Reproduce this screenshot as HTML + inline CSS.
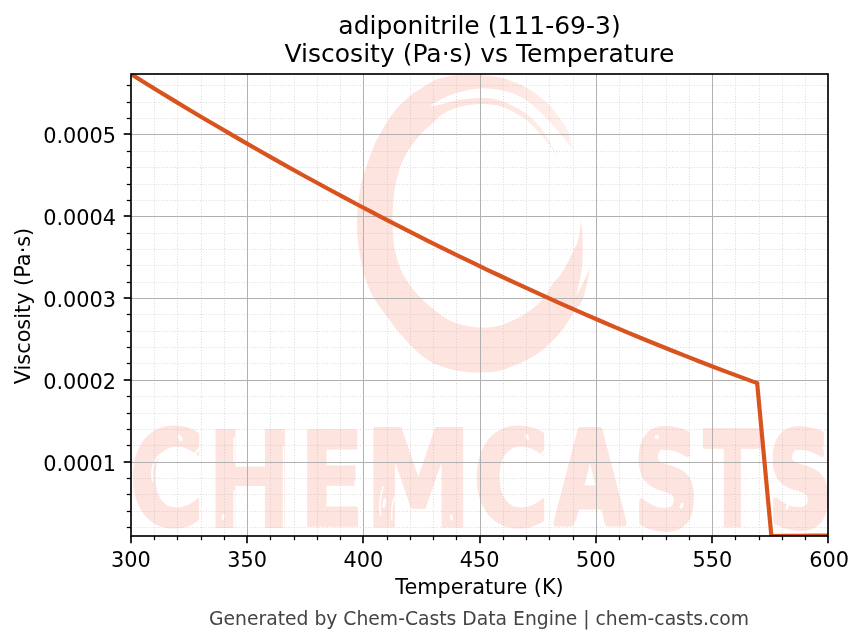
<!DOCTYPE html>
<html lang="en"><head><meta charset="utf-8"><title>adiponitrile (111-69-3) Viscosity (Pa·s) vs Temperature</title>
<style>html,body{margin:0;padding:0;background:#fff}body{width:863px;height:644px;overflow:hidden}</style>
</head><body>
<svg width="863" height="644" viewBox="0 0 863 644" style="display:block">
<defs><filter id="soft" x="-5%" y="-5%" width="110%" height="110%"><feGaussianBlur stdDeviation="0.7"/></filter><clipPath id="ax"><rect x="131" y="74" width="697" height="462"/></clipPath></defs>
<rect width="863" height="644" fill="#fff"/>
<g clip-path="url(#ax)" id="wm">
<defs><linearGradient id="fade" gradientUnits="userSpaceOnUse" x1="500" y1="0" x2="578" y2="0"><stop offset="0" stop-color="#fee4df"/><stop offset="1" stop-color="#fff1ee"/></linearGradient><clipPath id="ctop"><rect x="340" y="60" width="270" height="130"/></clipPath><clipPath id="cbot"><rect x="340" y="190" width="270" height="200"/></clipPath></defs>
<g filter="url(#soft)"><path d="M573.5,150.3C572.5,147.0 571.3,137.7 567.6,130.5C563.9,123.3 555.9,112.9 551.3,107.3C546.7,101.7 544.3,100.3 540.0,97.0C535.7,93.7 531.8,90.4 525.7,87.3C519.6,84.2 511.0,80.3 503.4,78.3C495.8,76.2 487.5,75.5 479.8,75.0C472.1,74.5 462.3,75.0 457.0,75.3C451.7,75.6 451.7,75.7 447.8,76.6C443.9,77.5 438.5,78.5 433.9,80.6C429.3,82.7 423.9,86.8 420.0,89.3C416.1,91.8 414.8,91.7 410.4,95.6C405.9,99.5 398.4,106.4 393.3,112.8C388.2,119.2 383.5,127.8 380.0,134.0C376.5,140.2 375.5,141.5 372.4,150.0C369.2,158.5 363.5,172.8 361.0,185.0C358.4,197.2 357.0,210.5 357.0,223.0C357.0,235.5 358.5,248.5 360.7,260.0C363.0,271.5 365.9,282.1 370.6,292.0C375.3,301.9 383.5,311.8 389.0,319.4C394.5,327.0 398.7,332.1 403.9,337.9C409.1,343.7 414.7,349.8 420.1,354.2C425.5,358.6 429.7,361.8 436.3,364.6C442.9,367.5 452.1,370.0 459.5,371.3C466.9,372.6 473.4,372.7 480.4,372.5C487.3,372.3 493.9,372.1 501.2,370.2C508.5,368.3 517.4,364.6 524.4,361.1C531.4,357.7 536.8,354.5 543.0,349.5C549.2,344.5 556.1,337.6 561.5,331.0C566.9,324.4 572.0,315.1 575.4,310.1C578.8,305.1 580.2,304.9 582.0,301.0C583.8,297.1 584.9,292.8 586.3,287.0C587.7,281.2 589.7,269.9 590.4,266.5C589.7,268.2 587.7,273.3 586.1,276.7C584.5,280.1 582.6,283.9 581.0,287.0C579.4,290.1 577.4,294.1 576.7,295.5C577.0,293.9 577.8,289.1 578.4,286.0C579.0,282.9 579.9,280.5 580.5,277.0C581.1,273.5 581.8,269.5 582.2,265.0C582.6,260.5 582.8,255.0 582.8,250.0C582.8,245.0 582.8,240.1 582.5,235.0C582.2,229.9 581.2,222.1 581.0,219.5C580.6,222.8 579.8,233.5 578.4,239.1C577.0,244.7 574.5,248.2 572.4,252.8C570.3,257.4 567.8,262.6 565.6,266.5C563.5,270.4 561.9,272.9 559.5,276.0C557.1,279.1 553.9,281.6 551.5,285.0C549.1,288.4 548.0,292.6 545.0,296.4C542.0,300.2 537.9,304.4 533.7,307.8C529.5,311.2 525.2,314.2 519.8,317.1C514.4,320.0 507.4,323.5 501.2,325.2C495.0,326.9 488.9,327.5 482.7,327.5C476.5,327.5 470.0,326.6 464.2,325.2C458.4,323.8 453.3,322.3 447.9,319.4C442.5,316.5 436.8,311.9 431.7,307.8C426.6,303.7 421.4,298.8 417.5,294.5C413.6,290.2 410.8,286.1 408.0,282.0C405.2,277.9 403.0,274.6 401.0,270.0C399.0,265.4 397.3,259.7 396.0,254.5C394.7,249.3 393.9,245.7 393.3,238.9C392.7,232.2 392.5,221.8 392.6,214.0C392.8,206.2 393.4,198.4 394.2,192.2C395.0,186.0 396.0,181.9 397.4,176.7C398.8,171.5 400.3,166.2 402.6,161.1C404.9,156.0 408.1,150.6 411.2,146.0C414.3,141.4 417.7,137.5 421.5,133.5C425.3,129.5 430.7,125.1 433.9,122.1C437.1,119.1 437.2,117.7 440.9,115.3C444.6,112.9 449.7,109.6 456.2,107.7C462.7,105.8 472.9,104.3 479.8,104.0C486.8,103.7 492.8,104.5 497.9,105.6C503.0,106.7 505.8,108.1 510.4,110.4C515.0,112.7 521.3,116.2 525.7,119.5C530.1,122.8 533.4,126.9 536.8,130.4C540.2,133.9 542.4,135.8 546.0,140.5C549.6,145.2 556.2,155.5 558.3,158.5C556.0,154.2 548.9,139.7 544.4,132.9C539.9,126.1 535.8,122.0 531.3,117.9C526.8,113.8 523.0,111.2 517.4,108.2C511.8,105.2 504.2,101.5 497.9,99.8C491.6,98.1 486.8,98.0 479.8,98.1C472.9,98.2 462.7,99.4 456.2,100.5C449.7,101.6 445.4,103.5 440.9,104.5C436.4,105.5 431.0,106.2 429.0,106.5C431.0,105.3 436.4,101.6 440.9,99.3C445.4,97.0 449.7,94.7 456.2,92.9C462.7,91.1 471.9,88.8 479.8,88.4C487.7,88.1 497.1,89.6 503.4,90.8C509.7,92.0 512.8,93.4 517.4,95.6C522.0,97.8 525.6,99.3 531.3,104.0C536.9,108.7 544.3,115.8 551.3,123.5C558.3,131.2 569.8,145.8 573.5,150.3Z" fill="url(#fade)" clip-path="url(#ctop)"/><path d="M573.5,150.3C572.5,147.0 571.3,137.7 567.6,130.5C563.9,123.3 555.9,112.9 551.3,107.3C546.7,101.7 544.3,100.3 540.0,97.0C535.7,93.7 531.8,90.4 525.7,87.3C519.6,84.2 511.0,80.3 503.4,78.3C495.8,76.2 487.5,75.5 479.8,75.0C472.1,74.5 462.3,75.0 457.0,75.3C451.7,75.6 451.7,75.7 447.8,76.6C443.9,77.5 438.5,78.5 433.9,80.6C429.3,82.7 423.9,86.8 420.0,89.3C416.1,91.8 414.8,91.7 410.4,95.6C405.9,99.5 398.4,106.4 393.3,112.8C388.2,119.2 383.5,127.8 380.0,134.0C376.5,140.2 375.5,141.5 372.4,150.0C369.2,158.5 363.5,172.8 361.0,185.0C358.4,197.2 357.0,210.5 357.0,223.0C357.0,235.5 358.5,248.5 360.7,260.0C363.0,271.5 365.9,282.1 370.6,292.0C375.3,301.9 383.5,311.8 389.0,319.4C394.5,327.0 398.7,332.1 403.9,337.9C409.1,343.7 414.7,349.8 420.1,354.2C425.5,358.6 429.7,361.8 436.3,364.6C442.9,367.5 452.1,370.0 459.5,371.3C466.9,372.6 473.4,372.7 480.4,372.5C487.3,372.3 493.9,372.1 501.2,370.2C508.5,368.3 517.4,364.6 524.4,361.1C531.4,357.7 536.8,354.5 543.0,349.5C549.2,344.5 556.1,337.6 561.5,331.0C566.9,324.4 572.0,315.1 575.4,310.1C578.8,305.1 580.2,304.9 582.0,301.0C583.8,297.1 584.9,292.8 586.3,287.0C587.7,281.2 589.7,269.9 590.4,266.5C589.7,268.2 587.7,273.3 586.1,276.7C584.5,280.1 582.6,283.9 581.0,287.0C579.4,290.1 577.4,294.1 576.7,295.5C577.0,293.9 577.8,289.1 578.4,286.0C579.0,282.9 579.9,280.5 580.5,277.0C581.1,273.5 581.8,269.5 582.2,265.0C582.6,260.5 582.8,255.0 582.8,250.0C582.8,245.0 582.8,240.1 582.5,235.0C582.2,229.9 581.2,222.1 581.0,219.5C580.6,222.8 579.8,233.5 578.4,239.1C577.0,244.7 574.5,248.2 572.4,252.8C570.3,257.4 567.8,262.6 565.6,266.5C563.5,270.4 561.9,272.9 559.5,276.0C557.1,279.1 553.9,281.6 551.5,285.0C549.1,288.4 548.0,292.6 545.0,296.4C542.0,300.2 537.9,304.4 533.7,307.8C529.5,311.2 525.2,314.2 519.8,317.1C514.4,320.0 507.4,323.5 501.2,325.2C495.0,326.9 488.9,327.5 482.7,327.5C476.5,327.5 470.0,326.6 464.2,325.2C458.4,323.8 453.3,322.3 447.9,319.4C442.5,316.5 436.8,311.9 431.7,307.8C426.6,303.7 421.4,298.8 417.5,294.5C413.6,290.2 410.8,286.1 408.0,282.0C405.2,277.9 403.0,274.6 401.0,270.0C399.0,265.4 397.3,259.7 396.0,254.5C394.7,249.3 393.9,245.7 393.3,238.9C392.7,232.2 392.5,221.8 392.6,214.0C392.8,206.2 393.4,198.4 394.2,192.2C395.0,186.0 396.0,181.9 397.4,176.7C398.8,171.5 400.3,166.2 402.6,161.1C404.9,156.0 408.1,150.6 411.2,146.0C414.3,141.4 417.7,137.5 421.5,133.5C425.3,129.5 430.7,125.1 433.9,122.1C437.1,119.1 437.2,117.7 440.9,115.3C444.6,112.9 449.7,109.6 456.2,107.7C462.7,105.8 472.9,104.3 479.8,104.0C486.8,103.7 492.8,104.5 497.9,105.6C503.0,106.7 505.8,108.1 510.4,110.4C515.0,112.7 521.3,116.2 525.7,119.5C530.1,122.8 533.4,126.9 536.8,130.4C540.2,133.9 542.4,135.8 546.0,140.5C549.6,145.2 556.2,155.5 558.3,158.5C556.0,154.2 548.9,139.7 544.4,132.9C539.9,126.1 535.8,122.0 531.3,117.9C526.8,113.8 523.0,111.2 517.4,108.2C511.8,105.2 504.2,101.5 497.9,99.8C491.6,98.1 486.8,98.0 479.8,98.1C472.9,98.2 462.7,99.4 456.2,100.5C449.7,101.6 445.4,103.5 440.9,104.5C436.4,105.5 431.0,106.2 429.0,106.5C431.0,105.3 436.4,101.6 440.9,99.3C445.4,97.0 449.7,94.7 456.2,92.9C462.7,91.1 471.9,88.8 479.8,88.4C487.7,88.1 497.1,89.6 503.4,90.8C509.7,92.0 512.8,93.4 517.4,95.6C522.0,97.8 525.6,99.3 531.3,104.0C536.9,108.7 544.3,115.8 551.3,123.5C558.3,131.2 569.8,145.8 573.5,150.3Z" fill="#fee4df" clip-path="url(#cbot)"/></g>
<text aria-label="CHEMCASTS" font-family="'DejaVu Sans','Liberation Sans',sans-serif" font-weight="bold" fill="#fee4df" stroke="#fee4df" stroke-linejoin="round" style="will-change:transform"><title>CHEMCASTS</title><tspan x="129.0" y="525.3" font-size="131.16" textLength="75.6" lengthAdjust="spacingAndGlyphs" stroke-width="3">C</tspan><tspan x="205.8" y="527.6" font-size="135.80" textLength="88.9" lengthAdjust="spacingAndGlyphs" stroke="none">H</tspan><tspan x="299.0" y="526.0" font-size="132.65" textLength="65.8" lengthAdjust="spacingAndGlyphs" stroke-width="1.5">E</tspan><tspan x="364.8" y="525.7" font-size="133.33" textLength="107.1" lengthAdjust="spacingAndGlyphs" stroke-width="3">M</tspan><tspan x="472.8" y="525.3" font-size="131.42" textLength="76.9" lengthAdjust="spacingAndGlyphs" stroke-width="3">C</tspan><tspan x="555.5" y="523.3" font-size="127.30" textLength="69.1" lengthAdjust="spacingAndGlyphs" stroke-width="7">A</tspan><tspan x="634.3" y="526.7" font-size="131.02" textLength="64.2" lengthAdjust="spacingAndGlyphs" stroke-width="6">S</tspan><tspan x="703.1" y="526.9" font-size="133.74" textLength="58.8" lengthAdjust="spacingAndGlyphs" stroke-width="1.5">T</tspan><tspan x="768.2" y="526.3" font-size="130.76" textLength="64.4" lengthAdjust="spacingAndGlyphs" stroke-width="6">S</tspan></text>
<g stroke="#fff" fill="none" stroke-linecap="round" opacity="0.92"><path d="M152.5,481 Q150.5,464 158.5,456.5 T172.5,449.5" stroke-width="2"/><ellipse cx="180.2" cy="438" rx="2.0" ry="3.6" transform="rotate(-25 180.2 438)" fill="#fff" stroke="none"/><path d="M193.5,456L201.5,445.5" stroke-width="2.2"/><path d="M189,529L199.5,520.5" stroke-width="2.0"/><path d="M234.3,438L234.3,461.5" stroke-width="1.8"/><path d="M234.3,491L234.3,528" stroke-width="1.8"/><path d="M238.6,497L238.6,528" stroke-width="1.2"/><ellipse cx="223" cy="517" rx="1.5" ry="3.2" transform="rotate(15 223 517)" fill="#fff" stroke="none"/><path d="M283.6,446L283.6,528" stroke-width="1.6"/><ellipse cx="328.4" cy="455.5" rx="1.4" ry="3.4" transform="rotate(10 328.4 455.5)" fill="#fff" stroke="none"/><path d="M355,481L355.6,487.5" stroke-width="1.6"/><path d="M357.5,504 Q360,514 359,526" stroke-width="1.6"/><path d="M358.2,436L359.2,446" stroke-width="1.4"/><path d="M383.2,487 Q378.5,500 380.6,515" stroke-width="1.8"/><ellipse cx="384.2" cy="503" rx="1.6" ry="5" transform="rotate(8 384.2 503)" fill="#fff" stroke="none"/><path d="M394.5,497.5 Q390.5,508 392,520" stroke-width="1.6"/><path d="M437.5,497.5 Q432,506 430.3,516" stroke-width="1.6"/><ellipse cx="451.4" cy="517.5" rx="1.6" ry="3.2" transform="rotate(-15 451.4 517.5)" fill="#fff" stroke="none"/><path d="M464.5,518L466,527" stroke-width="1.4"/><path d="M503.2,468.5 Q505,458 517.5,453.5" stroke-width="2"/><ellipse cx="527.2" cy="437" rx="1.8" ry="3.0" transform="rotate(-20 527.2 437)" fill="#fff" stroke="none"/><path d="M538,459L548.6,446" stroke-width="2.2"/><path d="M533.5,531L548.5,519.5" stroke-width="2.0"/><path d="M577.5,519L572.5,528" stroke-width="2.0"/><ellipse cx="656.9" cy="437" rx="2.2" ry="2.2" transform="rotate(0 656.9 437)" fill="#fff" stroke="none"/><ellipse cx="660.8" cy="452" rx="1.5" ry="3.0" transform="rotate(35 660.8 452)" fill="#fff" stroke="none"/><ellipse cx="681.6" cy="505.8" rx="1.6" ry="3.2" transform="rotate(25 681.6 505.8)" fill="#fff" stroke="none"/><path d="M689.5,447.5 Q692.5,452 691.2,458" stroke-width="1.6"/><path d="M694.5,498 Q696,512 688.5,523.5" stroke-width="1.6"/><path d="M632.5,529.5L634.5,533" stroke-width="1.6"/><path d="M743.6,454.5L743.6,528" stroke-width="1.6"/><path d="M746.6,458L746.6,528" stroke-width="1.0"/><ellipse cx="795.8" cy="452.5" rx="2.0" ry="3.0" transform="rotate(30 795.8 452.5)" fill="#fff" stroke="none"/><ellipse cx="787.2" cy="506.8" rx="1.5" ry="3.0" transform="rotate(25 787.2 506.8)" fill="#fff" stroke="none"/><path d="M823,447 Q826.5,452 825,459" stroke-width="1.6"/></g>
</g>
<g stroke="#b0b0b0" stroke-width="1.04" stroke-dasharray="1.04 1.72" fill="none" opacity="0.44">
<path d="M154.5,74.0V536.0"/>
<path d="M177.5,74.0V536.0"/>
<path d="M201.5,74.0V536.0"/>
<path d="M224.5,74.0V536.0"/>
<path d="M270.5,74.0V536.0"/>
<path d="M294.5,74.0V536.0"/>
<path d="M317.5,74.0V536.0"/>
<path d="M340.5,74.0V536.0"/>
<path d="M387.5,74.0V536.0"/>
<path d="M410.5,74.0V536.0"/>
<path d="M433.5,74.0V536.0"/>
<path d="M456.5,74.0V536.0"/>
<path d="M503.5,74.0V536.0"/>
<path d="M526.5,74.0V536.0"/>
<path d="M549.5,74.0V536.0"/>
<path d="M573.5,74.0V536.0"/>
<path d="M619.5,74.0V536.0"/>
<path d="M642.5,74.0V536.0"/>
<path d="M666.5,74.0V536.0"/>
<path d="M689.5,74.0V536.0"/>
<path d="M735.5,74.0V536.0"/>
<path d="M759.5,74.0V536.0"/>
<path d="M782.5,74.0V536.0"/>
<path d="M805.5,74.0V536.0"/>
<path d="M131.0,527.5H828.0"/>
<path d="M131.0,511.5H828.0"/>
<path d="M131.0,494.5H828.0"/>
<path d="M131.0,478.5H828.0"/>
<path d="M131.0,445.5H828.0"/>
<path d="M131.0,429.5H828.0"/>
<path d="M131.0,413.5H828.0"/>
<path d="M131.0,396.5H828.0"/>
<path d="M131.0,363.5H828.0"/>
<path d="M131.0,347.5H828.0"/>
<path d="M131.0,331.5H828.0"/>
<path d="M131.0,314.5H828.0"/>
<path d="M131.0,282.5H828.0"/>
<path d="M131.0,265.5H828.0"/>
<path d="M131.0,249.5H828.0"/>
<path d="M131.0,233.5H828.0"/>
<path d="M131.0,200.5H828.0"/>
<path d="M131.0,184.5H828.0"/>
<path d="M131.0,167.5H828.0"/>
<path d="M131.0,151.5H828.0"/>
<path d="M131.0,118.5H828.0"/>
<path d="M131.0,102.5H828.0"/>
<path d="M131.0,85.5H828.0"/>
</g>
<g stroke="#b0b0b0" stroke-width="1" fill="none" shape-rendering="crispEdges">
<path d="M247.5,74.0V536.0"/>
<path d="M363.5,74.0V536.0"/>
<path d="M480.5,74.0V536.0"/>
<path d="M596.5,74.0V536.0"/>
<path d="M712.5,74.0V536.0"/>
<path d="M131.0,462.5H828.0"/>
<path d="M131.0,380.5H828.0"/>
<path d="M131.0,298.5H828.0"/>
<path d="M131.0,216.5H828.0"/>
<path d="M131.0,134.5H828.0"/>
</g>
<path d="M131.00,74.00 L145.23,82.97 L159.46,91.71 L173.69,100.36 L187.92,108.93 L202.15,117.42 L216.38,125.82 L230.61,134.14 L244.84,142.38 L259.08,150.53 L273.31,158.59 L287.54,166.58 L301.77,174.47 L316.00,182.29 L330.23,190.02 L344.46,197.67 L358.69,205.23 L372.92,212.71 L387.15,220.10 L401.38,227.42 L415.61,234.65 L429.84,241.79 L444.07,248.85 L458.30,255.83 L472.53,262.72 L486.77,269.54 L501.00,276.26 L515.23,282.91 L529.46,289.47 L543.69,295.95 L557.92,302.34 L572.15,308.65 L586.38,314.88 L600.61,321.02 L614.84,327.09 L629.07,333.06 L643.30,338.96 L657.53,344.77 L671.76,350.50 L685.99,356.15 L700.22,361.71 L714.46,367.19 L728.69,372.59 L742.92,377.91 L757.15,383.14 L771.38,536.00 L785.61,535.88 L799.84,535.76 L814.07,535.63 L828.30,535.51" clip-path="url(#ax)" fill="none" stroke="#d9531e" stroke-width="4.17" stroke-linejoin="miter" stroke-linecap="butt"/>
<g stroke="#000" fill="none">
<path d="M131.0,536.0v7.3" stroke-width="1.67"/>
<path d="M154.5,536.0v4.2" stroke-width="1.25"/>
<path d="M177.5,536.0v4.2" stroke-width="1.25"/>
<path d="M201.5,536.0v4.2" stroke-width="1.25"/>
<path d="M224.5,536.0v4.2" stroke-width="1.25"/>
<path d="M247.0,536.0v7.3" stroke-width="1.67"/>
<path d="M270.5,536.0v4.2" stroke-width="1.25"/>
<path d="M294.5,536.0v4.2" stroke-width="1.25"/>
<path d="M317.5,536.0v4.2" stroke-width="1.25"/>
<path d="M340.5,536.0v4.2" stroke-width="1.25"/>
<path d="M363.0,536.0v7.3" stroke-width="1.67"/>
<path d="M387.5,536.0v4.2" stroke-width="1.25"/>
<path d="M410.5,536.0v4.2" stroke-width="1.25"/>
<path d="M433.5,536.0v4.2" stroke-width="1.25"/>
<path d="M456.5,536.0v4.2" stroke-width="1.25"/>
<path d="M480.0,536.0v7.3" stroke-width="1.67"/>
<path d="M503.5,536.0v4.2" stroke-width="1.25"/>
<path d="M526.5,536.0v4.2" stroke-width="1.25"/>
<path d="M549.5,536.0v4.2" stroke-width="1.25"/>
<path d="M573.5,536.0v4.2" stroke-width="1.25"/>
<path d="M596.0,536.0v7.3" stroke-width="1.67"/>
<path d="M619.5,536.0v4.2" stroke-width="1.25"/>
<path d="M642.5,536.0v4.2" stroke-width="1.25"/>
<path d="M666.5,536.0v4.2" stroke-width="1.25"/>
<path d="M689.5,536.0v4.2" stroke-width="1.25"/>
<path d="M712.0,536.0v7.3" stroke-width="1.67"/>
<path d="M735.5,536.0v4.2" stroke-width="1.25"/>
<path d="M759.5,536.0v4.2" stroke-width="1.25"/>
<path d="M782.5,536.0v4.2" stroke-width="1.25"/>
<path d="M805.5,536.0v4.2" stroke-width="1.25"/>
<path d="M828.0,536.0v7.3" stroke-width="1.67"/>
<path d="M131.0,527.5h-4.2" stroke-width="1.25"/>
<path d="M131.0,511.5h-4.2" stroke-width="1.25"/>
<path d="M131.0,494.5h-4.2" stroke-width="1.25"/>
<path d="M131.0,478.5h-4.2" stroke-width="1.25"/>
<path d="M131.0,462.0h-7.3" stroke-width="1.67"/>
<path d="M131.0,445.5h-4.2" stroke-width="1.25"/>
<path d="M131.0,429.5h-4.2" stroke-width="1.25"/>
<path d="M131.0,413.5h-4.2" stroke-width="1.25"/>
<path d="M131.0,396.5h-4.2" stroke-width="1.25"/>
<path d="M131.0,380.0h-7.3" stroke-width="1.67"/>
<path d="M131.0,363.5h-4.2" stroke-width="1.25"/>
<path d="M131.0,347.5h-4.2" stroke-width="1.25"/>
<path d="M131.0,331.5h-4.2" stroke-width="1.25"/>
<path d="M131.0,314.5h-4.2" stroke-width="1.25"/>
<path d="M131.0,298.0h-7.3" stroke-width="1.67"/>
<path d="M131.0,282.5h-4.2" stroke-width="1.25"/>
<path d="M131.0,265.5h-4.2" stroke-width="1.25"/>
<path d="M131.0,249.5h-4.2" stroke-width="1.25"/>
<path d="M131.0,233.5h-4.2" stroke-width="1.25"/>
<path d="M131.0,216.0h-7.3" stroke-width="1.67"/>
<path d="M131.0,200.5h-4.2" stroke-width="1.25"/>
<path d="M131.0,184.5h-4.2" stroke-width="1.25"/>
<path d="M131.0,167.5h-4.2" stroke-width="1.25"/>
<path d="M131.0,151.5h-4.2" stroke-width="1.25"/>
<path d="M131.0,134.0h-7.3" stroke-width="1.67"/>
<path d="M131.0,118.5h-4.2" stroke-width="1.25"/>
<path d="M131.0,102.5h-4.2" stroke-width="1.25"/>
<path d="M131.0,85.5h-4.2" stroke-width="1.25"/>
<rect x="131.0" y="74.0" width="697.0" height="462.0" stroke-width="1.67" stroke-linejoin="miter"/>
</g>
<g font-family="'DejaVu Sans','Liberation Sans',sans-serif" fill="#000" style="will-change:transform">
<g font-size="20.83" text-anchor="middle">
<text x="131.00" y="566.8">300</text>
<text x="247.22" y="566.8">350</text>
<text x="363.43" y="566.8">400</text>
<text x="479.65" y="566.8">450</text>
<text x="595.87" y="566.8">500</text>
<text x="712.38" y="566.8">550</text>
<text x="829.20" y="566.8">600</text>
</g>
<g font-size="20.83" text-anchor="end">
<text x="116.1" y="470.50">0.0001</text>
<text x="116.1" y="388.50">0.0002</text>
<text x="116.1" y="306.50">0.0003</text>
<text x="116.1" y="224.50">0.0004</text>
<text x="116.1" y="142.50">0.0005</text>
</g>
<text x="479.5" y="33.7" font-size="25" text-anchor="middle">adiponitrile (111-69-3)</text>
<text x="479.5" y="61.9" font-size="25" text-anchor="middle">Viscosity (Pa·s) vs Temperature</text>
<text x="479.5" y="594.3" font-size="20.83" text-anchor="middle">Temperature (K)</text>
<text transform="translate(30.0,306.0) rotate(-90)" font-size="20.83" text-anchor="middle">Viscosity (Pa·s)</text>
<text x="479" y="624.6" font-size="18.75" text-anchor="middle" fill="#444">Generated by Chem-Casts Data Engine | chem-casts.com</text>
</g>
</svg>
</body></html>
